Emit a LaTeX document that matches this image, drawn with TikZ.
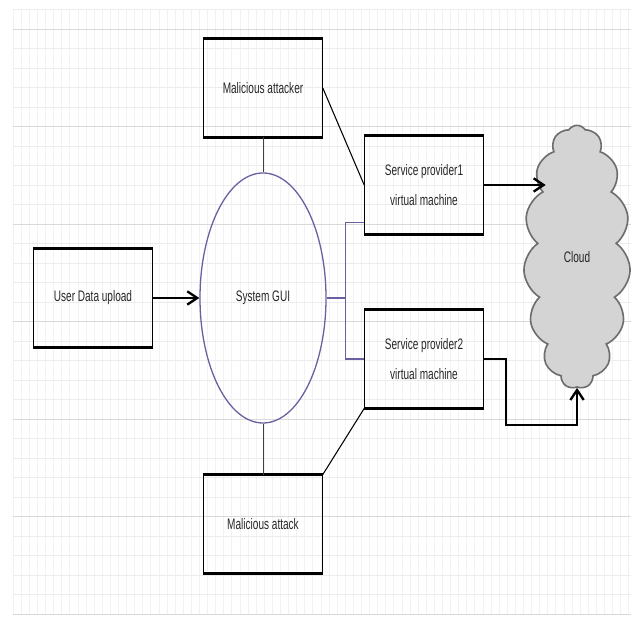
\documentclass[tikz,border=0pt]{standalone}
\usepackage{fontspec}
\usepackage{tikz}
\usetikzlibrary{shapes.geometric, shapes.symbols, arrows.meta, positioning, calc}
\usepackage{xcolor}

\newfontfamily\narrowsans[FakeStretch=0.66]{Liberation Sans}
\definecolor{guiline}{RGB}{104,96,160}
\definecolor{cloudfill}{RGB}{212,212,212}
\definecolor{cloudline}{RGB}{110,110,110}

\begin{document}
\begin{tikzpicture}[
    x=0.03cm, y=-0.03cm,
    on grid,
    label font/.style={font=\narrowsans\fontsize{13}{25.5}\selectfont, text=black!85},
    box/.style={rectangle, draw, line width=1.1pt, minimum width=3.55cm, minimum height=2.93cm,
        align=center, label font,
        append after command={(\tikzlastnode.north west) edge[line width=2.6pt] (\tikzlastnode.north east)
            (\tikzlastnode.south west) edge[line width=2.6pt] (\tikzlastnode.south east)}},
    gui/.style={ellipse, draw=guiline, line width=1.1pt, minimum width=3.78cm, minimum height=7.5cm,
        inner sep=0pt, label font},
    cloudbox/.style={cloud, cloud puffs=15, cloud puff arc=115, cloud ignores aspect, draw=cloudline,
        line width=1.4pt, fill=cloudfill, minimum width=3.2cm, minimum height=7.9cm, label font},
    arrow/.style={-{Straight Barb[length=3mm, width=4mm]}, line width=2pt},
    thinline/.style={draw=black!75, line width=0.8pt},
    link/.style={draw=black, line width=0.9pt},
    guilink/.style={draw=guiline, line width=1.1pt}
]
    % background grid
    \useasboundingbox (0,0) rectangle (631,626);
    \foreach \gx in {13,21.1,...,631} \draw[gray!10, line width=0.4pt] (\gx,9.5) -- (\gx,614);
    \foreach \gy in {9.5,29,...,615} \draw[gray!15, line width=0.5pt] (13,\gy) -- (631,\gy);
    \foreach \gy in {29,126.5,...,615} \draw[gray!30, line width=0.7pt] (13,\gy) -- (631,\gy);

    % middle
    \node[gui] (gui) at (263,298) {System GUI};
    \node[box, left=5.1cm of gui] (user) {User Data upload};

    % attackers above and below
    \node[box, above=6.3cm of gui] (attacker) {Malicious attacker};
    \node[box, below=6.78cm of gui] (attack) {Malicious attack};

    % service providers
    \node[box, above right=3.39cm and 4.83cm of gui] (sp1) {Service provider1\\virtual machine};
    \node[box, below right=1.83cm and 4.83cm of gui] (sp2) {Service provider2\\virtual machine};

    % cloud
    \node[cloudbox, above right=1.23cm and 9.42cm of gui] (cloud) {Cloud};

    % connectors
    \draw[arrow] (user) -- (gui);
    \draw[thinline] (attacker) -- (gui);
    \draw[thinline] (gui) -- (attack);
    \draw[link] (attacker.east) -- (sp1.west);
    \draw[link] (attack.north east) -- (sp2.south west);

    \draw[guilink] (gui.east) -- ++(19,0) coordinate (fork) |- (sp1.212);
    \draw[guilink] (fork) |- (sp2.west);

    \draw[arrow] (sp1.east) -- ($(sp1.east -| cloud.west)+(20,0)$);
    \draw[arrow] (sp2.east) -- ++(22,0) |- ($(cloud.south)+(0,37)$) -- (cloud.south);
\end{tikzpicture}
\end{document}
